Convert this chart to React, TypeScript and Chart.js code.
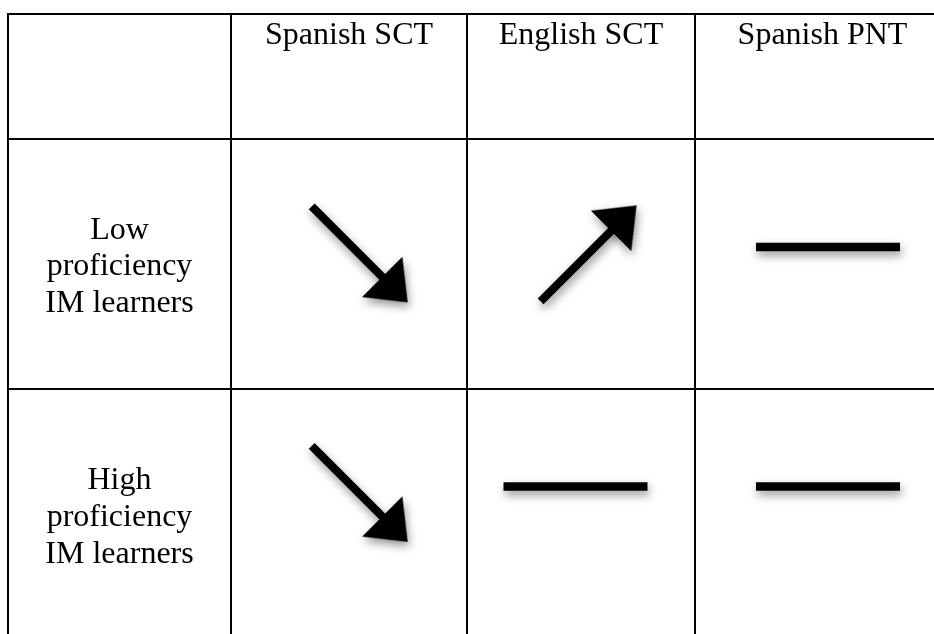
import React, { useEffect, useRef } from "react";
import { Chart, registerables } from "chart.js";

Chart.register(...registerables);

// ---- data ----
const columns = ["Spanish SCT", "English SCT", "Spanish PNT"];
const groupLabels = [
  ["Low", "proficiency", "IM learners"],
  ["High", "proficiency", "IM learners"],
];
// -1 = decrease (down arrow), 1 = increase (up arrow), 0 = no change (flat bar)
const lowTrend = [-1, 1, 0];
const highTrend = [-1, 0, 0];

// ---- layout / style (page pixels) ----
const W = 934;
const H = 634;
const colEdges = [8, 231, 467, 695, 950];
const rowEdges = [14, 139, 389, 640];
const nudgeX = [
  [10.7, 7.6, 5.5],
  [10.7, -5.5, 5.5],
];
const nudgeY = [
  [-9.6, -10.6, -17],
  [-20.6, -28, -28],
];
const ARROW_HALF = 48;
const BAR_HALF = 72;
const HEAD_LEN = 36;
const HEAD_W = 57;
const STROKE = 8.3;
const FONT = '32px "Liberation Serif", "Times New Roman", serif';

function makeHead(): HTMLCanvasElement {
  const c = document.createElement("canvas");
  const w = HEAD_LEN + 8;
  const h = HEAD_W + 8;
  c.width = w;
  c.height = h;
  const g = c.getContext("2d")!;
  g.fillStyle = "#000";
  g.beginPath();
  g.moveTo(w / 2 - HEAD_LEN / 2, h / 2 - HEAD_W / 2);
  g.lineTo(w / 2 + HEAD_LEN / 2, h / 2);
  g.lineTo(w / 2 - HEAD_LEN / 2, h / 2 + HEAD_W / 2);
  g.closePath();
  g.fill();
  return c;
}

export default function App() {
  const ref = useRef<HTMLCanvasElement | null>(null);

  useEffect(() => {
    if (!ref.current) return;
    const head = makeHead();
    const trends = [lowTrend, highTrend];
    const datasets: any[] = [];

    // table rules
    colEdges.slice(0, 4).forEach((x) => {
      datasets.push({
        data: [
          { x, y: rowEdges[0] - 1 },
          { x, y: rowEdges[rowEdges.length - 1] },
        ],
        showLine: true,
        borderColor: "#000",
        borderWidth: 2,
        pointRadius: 0,
        borderCapStyle: "butt",
      });
    });
    rowEdges.slice(0, 3).forEach((y) => {
      datasets.push({
        data: [
          { x: colEdges[0] - 1, y },
          { x: colEdges[colEdges.length - 1], y },
        ],
        showLine: true,
        borderColor: "#000",
        borderWidth: 2,
        pointRadius: 0,
        borderCapStyle: "butt",
      });
    });

    // trend glyphs
    trends.forEach((row, r) => {
      row.forEach((t, c) => {
        const cx = (colEdges[c + 1] + colEdges[c + 2]) / 2 + nudgeX[r][c];
        const cy = (rowEdges[r + 1] + rowEdges[r + 2]) / 2 + nudgeY[r][c];
        if (t === 0) {
          datasets.push({
            data: [
              { x: cx - BAR_HALF, y: cy },
              { x: cx + BAR_HALF, y: cy },
            ],
            showLine: true,
            borderColor: "#000",
            borderWidth: STROKE,
            pointRadius: 0,
            borderCapStyle: "butt",
            shadow: true,
          });
        } else {
          const sx = cx - ARROW_HALF;
          const sy = cy + t * ARROW_HALF;
          const tx = cx + ARROW_HALF;
          const ty = cy - t * ARROW_HALF;
          const len = Math.hypot(tx - sx, ty - sy);
          const ux = (tx - sx) / len;
          const uy = (ty - sy) / len;
          const hx = tx - ux * (HEAD_LEN / 2);
          const hy = ty - uy * (HEAD_LEN / 2);
          const ang = (Math.atan2(uy, ux) * 180) / Math.PI;
          datasets.push({
            data: [
              { x: sx, y: sy },
              { x: hx, y: hy },
            ],
            showLine: true,
            borderColor: "#000",
            backgroundColor: "#000",
            borderWidth: STROKE,
            pointRadius: [0, 1],
            pointHoverRadius: 0,
            pointHitRadius: 0,
            pointStyle: head,
            pointRotation: ang,
            borderCapStyle: "butt",
            shadow: true,
          });
        }
      });
    });

    const shadowPlugin = {
      id: "glyphShadow",
      beforeDatasetDraw(chart: any, args: any) {
        const ds = chart.data.datasets[args.index];
        if (ds && ds.shadow) {
          const ctx = chart.ctx;
          ctx.save();
          ctx.shadowColor = "rgba(0,0,0,0.42)";
          ctx.shadowBlur = 10;
          ctx.shadowOffsetX = 1.5;
          ctx.shadowOffsetY = 4.5;
        }
      },
      afterDatasetDraw(chart: any, args: any) {
        const ds = chart.data.datasets[args.index];
        if (ds && ds.shadow) chart.ctx.restore();
      },
    };

    const textPlugin = {
      id: "tableText",
      afterDatasetsDraw(chart: any) {
        const ctx = chart.ctx;
        const xs = chart.scales.x;
        const ys = chart.scales.y;
        ctx.save();
        ctx.fillStyle = "#000";
        ctx.font = FONT;
        ctx.textAlign = "center";
        ctx.textBaseline = "alphabetic";
        columns.forEach((label, i) => {
          const x = xs.getPixelForValue((colEdges[i + 1] + colEdges[i + 2]) / 2);
          const y = ys.getPixelForValue(rowEdges[0] + 29.5);
          ctx.fillText(label, x, y);
        });
        groupLabels.forEach((lines, r) => {
          const x = xs.getPixelForValue((colEdges[0] + colEdges[1]) / 2);
          const mid = (rowEdges[r + 1] + rowEdges[r + 2]) / 2 + 11.3;
          lines.forEach((line, k) => {
            const y = ys.getPixelForValue(mid + (k - 1) * 36.8);
            ctx.fillText(line, x, y);
          });
        });
        ctx.restore();
      },
    };

    let chart: Chart | null = null;
    let cancelled = false;
    const build = () => {
      if (cancelled || !ref.current) return;
      chart = new Chart(ref.current, {
        type: "scatter",
        data: { datasets },
        options: {
          animation: false,
          responsive: false,
          maintainAspectRatio: false,
          events: [],
          layout: { padding: 0, autoPadding: false },
          plugins: { legend: { display: false }, tooltip: { enabled: false } },
          scales: {
            x: { type: "linear", min: 0, max: W, display: false },
            y: { type: "linear", min: 0, max: H, reverse: true, display: false },
          },
        },
        plugins: [shadowPlugin, textPlugin],
      } as any);
    };
    const fonts: any = (document as any).fonts;
    if (fonts && fonts.load) {
      fonts.load(FONT).then(build, build);
    } else {
      build();
    }
    return () => {
      cancelled = true;
      if (chart) chart.destroy();
    };
  }, []);

  return (
    <div
      style={{
        position: "fixed",
        left: 0,
        top: 0,
        width: W,
        height: H,
        background: "#fff",
        overflow: "hidden",
      }}
    >
      <canvas ref={ref} width={W} height={H} style={{ display: "block" }} />
    </div>
  );
}
